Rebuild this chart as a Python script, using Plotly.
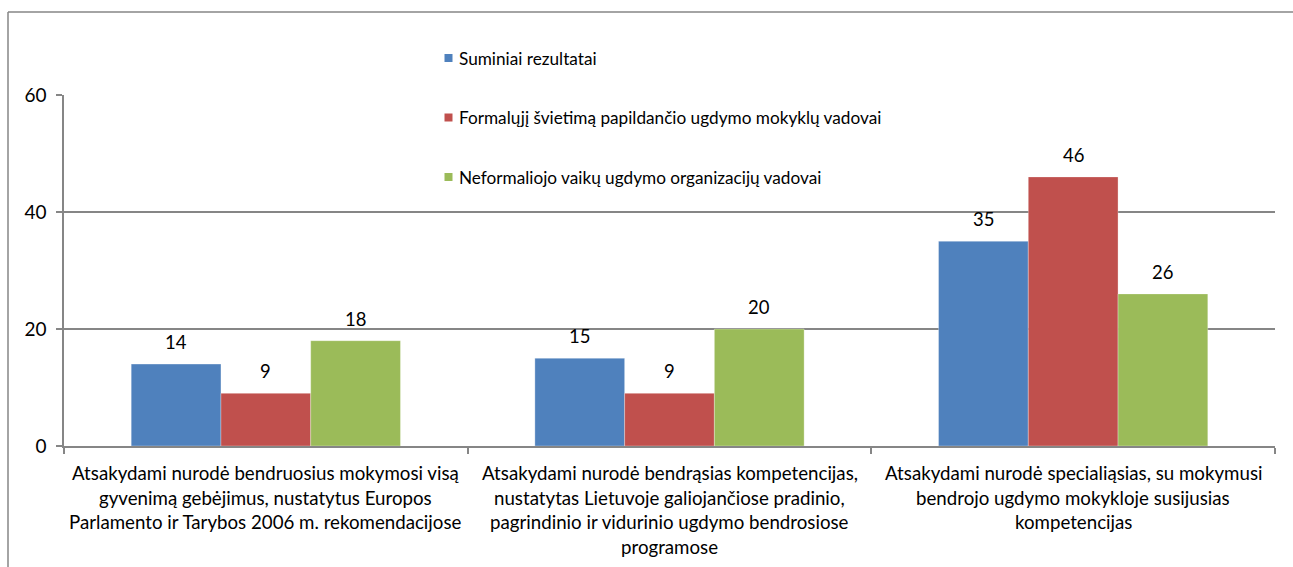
import plotly.graph_objects as go

# Category texts, split into the lines they are printed on
category_lines = [
    ["Atsakydami nurodė bendruosius mokymosi visą",
     "gyvenimą gebėjimus, nustatytus Europos",
     "Parlamento ir Tarybos 2006 m. rekomendacijose"],
    ["Atsakydami nurodė bendrąsias kompetencijas,",
     "nustatytas Lietuvoje galiojančiose pradinio,",
     "pagrindinio ir vidurinio ugdymo bendrosiose",
     "programose"],
    ["Atsakydami nurodė specialiąsias, su mokymusi",
     "bendrojo ugdymo mokykloje susijusias",
     "kompetencijas"],
]
categories = [" ".join(lines) for lines in category_lines]

series_names = [
    "Suminiai rezultatai",
    "Formalųjį švietimą papildančio ugdymo mokyklų vadovai",
    "Neformaliojo vaikų ugdymo organizacijų vadovai",
]
suminiai = [14, 15, 35]
formalaji = [9, 9, 46]
neformaliojo = [18, 20, 26]
series_values = [suminiai, formalaji, neformaliojo]

colors = ["#4F81BD", "#C0504D", "#9BBB59"]
y_ticks = [0, 20, 40, 60]

FONT = "Lato"
GRID = "#868686"
BARGAP = 0.333

fig = go.Figure()
for name, vals, col in zip(series_names, series_values, colors):
    fig.add_trace(go.Bar(
        x=categories, y=vals, name=name,
        marker=dict(color=col, line=dict(color="rgba(255,255,255,0.5)", width=0.6)),
        showlegend=False,
    ))

annotations = []
shapes = []

# value labels above each bar
n_series = len(series_values)
bar_w = (1 - BARGAP) / n_series
for j, vals in enumerate(series_values):
    for i, v in enumerate(vals):
        annotations.append(dict(
            x=i + (j - (n_series - 1) / 2) * bar_w, y=v, xref="x", yref="y",
            text=str(v), showarrow=False, yanchor="middle", yshift=22,
            font=dict(family=FONT, size=18.5, color="#000000"),
        ))

# category labels under the axis, one annotation per line
for i, lines in enumerate(category_lines):
    for k, line in enumerate(lines):
        annotations.append(dict(
            x=i, y=0, xref="x", yref="paper", text=line, showarrow=False,
            yanchor="middle", xanchor="center", yshift=-27 - 24.5 * k,
            font=dict(family=FONT, size=18.7, color="#000000"),
        ))

# legend block: coloured squares with their series names
W, H = 1293, 567
L, R, T, B = 64, 18, 95, 121
pw, ph = W - L - R, H - T - B


def px_x(x):
    return (x - L) / pw


def px_y(y):
    return (H - B - y) / ph


legend_rows = [58, 117.5, 177]
for name, col, yc in zip(series_names, colors, legend_rows):
    shapes.append(dict(
        type="rect", xref="paper", yref="paper",
        x0=px_x(444.5), x1=px_x(452.5), y0=px_y(yc + 4), y1=px_y(yc - 4),
        fillcolor=col, line=dict(width=0),
    ))
    annotations.append(dict(
        x=px_x(457), y=px_y(yc), xref="paper", yref="paper", text=name,
        showarrow=False, xanchor="left", yanchor="middle",
        font=dict(family=FONT, size=17.2, color="#000000"),
    ))

# outer chart frame (left and top edges)
shapes.append(dict(type="line", xref="paper", yref="paper",
                   x0=px_x(8), x1=px_x(8), y0=px_y(12), y1=px_y(H + 5),
                   line=dict(color=GRID, width=1.5)))
shapes.append(dict(type="line", xref="paper", yref="paper",
                   x0=px_x(8), x1=px_x(W + 5), y0=px_y(12), y1=px_y(12),
                   line=dict(color=GRID, width=1.5)))

fig.update_layout(
    width=W, height=H,
    margin=dict(l=L, r=R, t=T, b=B, pad=0),
    paper_bgcolor="white", plot_bgcolor="white",
    barmode="group", bargap=BARGAP, bargroupgap=0,
    font=dict(family=FONT, size=18, color="#000000"),
    annotations=annotations, shapes=shapes,
    showlegend=False,
)
fig.update_xaxes(
    showticklabels=False, showgrid=False,
    showline=True, linecolor=GRID, linewidth=1.5,
    ticks="outside", tickson="boundaries", ticklen=6, tickcolor=GRID, tickwidth=1.5,
)
fig.update_yaxes(
    range=[0, 60], tickvals=y_ticks,
    showgrid=True, gridcolor=GRID, gridwidth=1.5,
    showline=True, linecolor=GRID, linewidth=1.5,
    ticks="outside", ticklen=6, tickcolor=GRID, tickwidth=1.5,
    ticklabelstandoff=6,
    tickfont=dict(family=FONT, size=19, color="#000000"),
    zeroline=False,
)

fig.write_html("out.html")
